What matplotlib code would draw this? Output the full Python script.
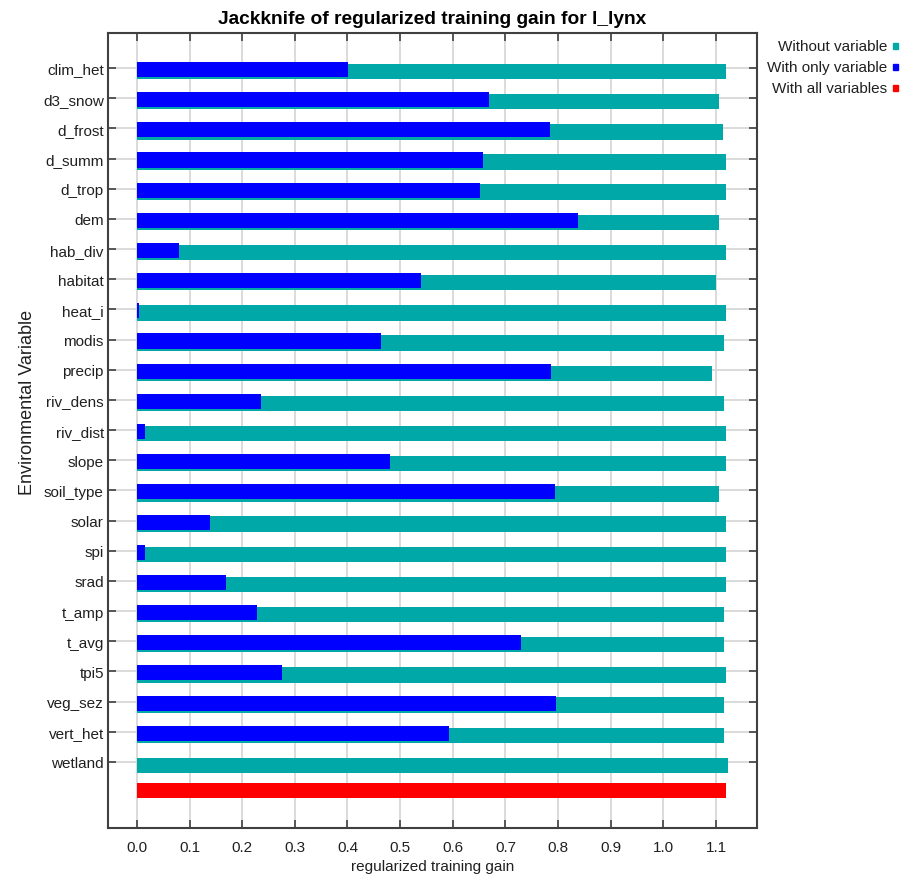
import matplotlib
matplotlib.use("Agg")
import matplotlib.pyplot as plt
import numpy as np

plt.rcParams['font.family'] = ['Liberation Sans', 'DejaVu Sans']

variables = ["clim_het", "d3_snow", "d_frost", "d_summ", "d_trop", "dem", "hab_div",
             "habitat", "heat_i", "modis", "precip", "riv_dens", "riv_dist", "slope",
             "soil_type", "solar", "spi", "srad", "t_amp", "t_avg", "tpi5", "veg_sez",
             "vert_het", "wetland"]
without_variable = [1.119, 1.106, 1.114, 1.119, 1.119, 1.106, 1.119, 1.101, 1.119, 1.116,
                    1.092, 1.116, 1.119, 1.119, 1.106, 1.119, 1.119, 1.119, 1.116, 1.116,
                    1.119, 1.116, 1.116, 1.122]
with_only_variable = [0.401, 0.669, 0.785, 0.658, 0.652, 0.837, 0.080, 0.540, 0.004, 0.464,
                      0.787, 0.236, 0.015, 0.481, 0.795, 0.139, 0.015, 0.169, 0.228, 0.730,
                      0.276, 0.797, 0.593, 0.001]
with_all_variables = 1.119
x_ticks = [0.0, 0.1, 0.2, 0.3, 0.4, 0.5, 0.6, 0.7, 0.8, 0.9, 1.0, 1.1]

c_without = "#00A8A8"
c_only = "#0000FF"
c_all = "#FF0000"
txt = "#202020"
fs = 11

fig = plt.figure(figsize=(9.01, 8.78), dpi=100)
ax = fig.add_axes([108/901, (878-829)/878, (757-108)/901, (829-34)/878])

rows = np.arange(len(variables))
ax.barh(rows + 0.116, without_variable, height=0.51, color=c_without, zorder=2)
ax.barh(rows + 0.05, with_only_variable, height=0.50, color=c_only, zorder=3)
ax.barh([len(variables) - 0.06], [with_all_variables], height=0.50, color=c_all, zorder=3)

ax.set_ylim((829-69)/30.17, (34-69)/30.17)
ax.set_xlim(-0.055, 1.178)
ax.set_yticks(rows)
ax.set_yticklabels(variables, fontsize=fs, color=txt)
ax.set_xticks(x_ticks)
ax.set_xticklabels([f"{t:.1f}" for t in x_ticks], fontsize=fs, color=txt)
ax.tick_params(axis='both', direction='in', length=6, width=1.2, color="#404040",
               top=True, right=True)
ax.tick_params(axis='y', pad=3)
ax.tick_params(axis='x', pad=9)
ax.grid(True, color="#d4d4d4", linewidth=1.2, zorder=0)
ax.set_axisbelow(True)
for s in ax.spines.values():
    s.set_color("#404040")
    s.set_linewidth(1.5)

ax.set_xlabel("regularized training gain", fontsize=fs, color=txt, labelpad=3)
ax.set_ylabel("Environmental Variable", fontsize=13, color=txt)
ax.yaxis.set_label_coords((36 - 108) / 649, (829 - 402) / 795)
ax.set_title("Jackknife of regularized training gain for l_lynx", fontsize=13.8,
             fontweight="bold", pad=7)

legend_items = [("Without variable", c_without), ("With only variable", c_only),
                ("With all variables", c_all)]
for k, (lab, col) in enumerate(legend_items):
    ypx = 47 + k * 21
    fig.text(887/901, 1 - ypx/878, lab, ha="right", va="center", fontsize=fs, color=txt)
    fig.patches.append(plt.Rectangle((893/901, 1 - (ypx + 3)/878), 5/901, 6/878,
                                     transform=fig.transFigure, color=col, figure=fig))

fig.savefig("out.png", dpi=100)
